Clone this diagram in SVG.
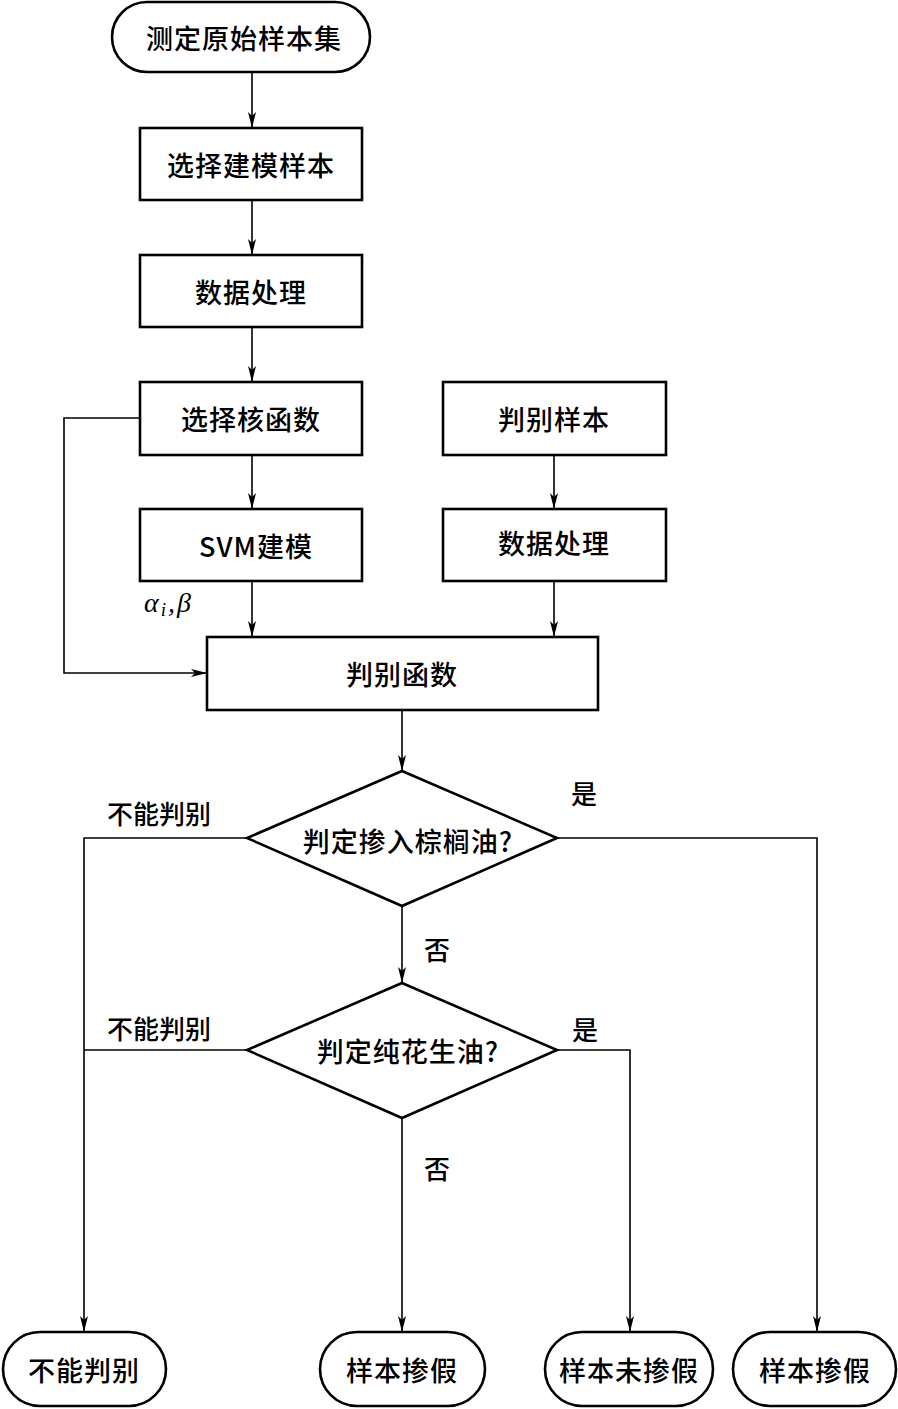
<svg xmlns="http://www.w3.org/2000/svg" width="898" height="1409" viewBox="0 0 898 1409">
<style>
.n{fill:#fff;stroke:#000;stroke-width:2.6}
.t{font-family:"Noto Sans CJK SC","Liberation Serif",sans-serif;font-size:27px;font-weight:500;fill:#000;text-anchor:middle;dominant-baseline:central;letter-spacing:1px}
.l{font-family:"Noto Sans CJK SC","Liberation Serif",sans-serif;font-size:26px;font-weight:500;fill:#000;text-anchor:middle;dominant-baseline:central}
.c{fill:none;stroke:#000;stroke-width:1.6}
</style>
<defs>
<marker id="a" viewBox="0 0 16 8" refX="16" refY="4" markerWidth="16" markerHeight="8" markerUnits="userSpaceOnUse" orient="auto">
<path d="M0,0 L16,4 L0,8 L4,4 Z" fill="#000"/>
</marker>
</defs>
<rect width="898" height="1409" fill="#fff"/>
<g id="connectors">
<path class="c" d="M252,72 V128" marker-end="url(#a)"/>
<path class="c" d="M252,200 V255" marker-end="url(#a)"/>
<path class="c" d="M252,327 V382" marker-end="url(#a)"/>
<path class="c" d="M252,455 V509" marker-end="url(#a)"/>
<path class="c" d="M554,455 V509" marker-end="url(#a)"/>
<path class="c" d="M252,581 V637" marker-end="url(#a)"/>
<path class="c" d="M554,581 V637" marker-end="url(#a)"/>
<path class="c" d="M140,418 H64 V673 H207" marker-end="url(#a)"/>
<path class="c" d="M402,710 V771" marker-end="url(#a)"/>
<path class="c" d="M402,906 V983" marker-end="url(#a)"/>
<path class="c" d="M247,838 H84 V1332" marker-end="url(#a)"/>
<path class="c" d="M247,1050 H84"/>
<path class="c" d="M557,838 H817 V1332" marker-end="url(#a)"/>
<path class="c" d="M557,1050 H630 V1332" marker-end="url(#a)"/>
<path class="c" d="M402,1118 V1332" marker-end="url(#a)"/>
<text class="l" x="159" y="812">不能判别</text>
<text class="l" x="584" y="792">是</text>
<text class="l" x="437" y="948">否</text>
<text class="l" x="159" y="1027">不能判别</text>
<text class="l" x="585" y="1028">是</text>
<text class="l" x="437" y="1167">否</text>
<text x="144" y="612" font-family="Liberation Serif,serif" font-style="italic" font-size="28" letter-spacing="2">α<tspan font-size="19" dy="4">i</tspan><tspan dy="-4">,β</tspan></text>
</g>
<g id="start"><rect class="n" x="112" y="2" width="258" height="70" rx="35"/><text class="t" x="244" y="37">测定原始样本集</text></g>
<g id="select"><rect class="n" x="140" y="128" width="222" height="72"/><text class="t" x="251" y="164">选择建模样本</text></g>
<g id="proc1"><rect class="n" x="140" y="255" width="222" height="72"/><text class="t" x="251" y="291">数据处理</text></g>
<g id="kernel"><rect class="n" x="140" y="382" width="222" height="73"/><text class="t" x="251" y="418">选择核函数</text></g>
<g id="svm"><rect class="n" x="140" y="509" width="222" height="72"/><text class="t" x="256" y="545">SVM建模</text></g>
<g id="sample"><rect class="n" x="443" y="382" width="223" height="73"/><text class="t" x="554" y="418">判别样本</text></g>
<g id="proc2"><rect class="n" x="443" y="509" width="223" height="72"/><text class="t" x="554" y="542">数据处理</text></g>
<g id="func"><rect class="n" x="207" y="637" width="391" height="73"/><text class="t" x="402" y="673">判别函数</text></g>
<g id="d1"><polygon class="n" points="402,771 557,838 402,906 247,838"/><text class="t" x="408" y="840">判定掺入棕榈油?</text></g>
<g id="d2"><polygon class="n" points="402,983 557,1050 402,1118 247,1050"/><text class="t" x="408" y="1050">判定纯花生油?</text></g>
<g id="e1"><rect class="n" x="3" y="1332" width="163" height="74" rx="37"/><text class="t" x="84" y="1369">不能判别</text></g>
<g id="e2"><rect class="n" x="320" y="1332" width="165" height="74" rx="37"/><text class="t" x="402" y="1369">样本掺假</text></g>
<g id="e3"><rect class="n" x="545" y="1332" width="168" height="74" rx="37"/><text class="t" x="629" y="1369">样本未掺假</text></g>
<g id="e4"><rect class="n" x="733" y="1332" width="163" height="74" rx="37"/><text class="t" x="815" y="1369">样本掺假</text></g>
</svg>
